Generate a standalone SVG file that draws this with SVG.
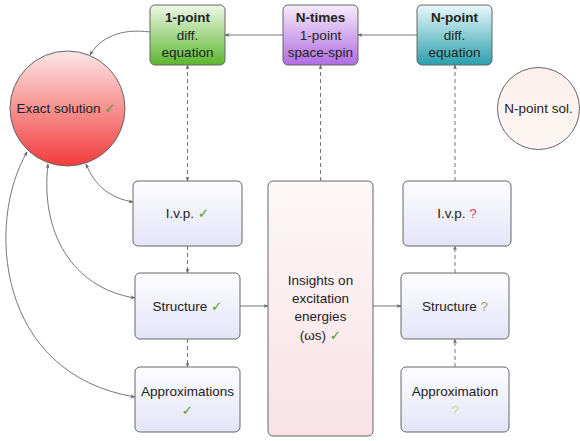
<svg xmlns="http://www.w3.org/2000/svg" width="580" height="441" viewBox="0 0 580 441">
<defs>
<linearGradient id="gGreen" x1="0" y1="0" x2="0" y2="1"><stop offset="0" stop-color="#eef8e6"/><stop offset="1" stop-color="#5cb62e"/></linearGradient>
<linearGradient id="gPurple" x1="0" y1="0" x2="0" y2="1"><stop offset="0" stop-color="#f6ecfc"/><stop offset="1" stop-color="#b06ce0"/></linearGradient>
<linearGradient id="gTeal" x1="0" y1="0" x2="0" y2="1"><stop offset="0" stop-color="#eaf8f9"/><stop offset="1" stop-color="#2a9fae"/></linearGradient>
<linearGradient id="gRed" x1="0" y1="0" x2="0" y2="1"><stop offset="0" stop-color="#fce6e6"/><stop offset="1" stop-color="#f23c3c"/></linearGradient>
<linearGradient id="gPeach" x1="0" y1="0" x2="0" y2="1"><stop offset="0" stop-color="#fdf0ec"/><stop offset="1" stop-color="#fdf6f4"/></linearGradient>
<linearGradient id="gLav" x1="0" y1="0" x2="0" y2="1"><stop offset="0" stop-color="#fdfdff"/><stop offset="1" stop-color="#e4e4f8"/></linearGradient>
<linearGradient id="gPink" x1="0" y1="0" x2="0" y2="1"><stop offset="0" stop-color="#fdf7f8"/><stop offset="1" stop-color="#f8e2e6"/></linearGradient>
<marker id="arr" viewBox="0 0 10 10" refX="9" refY="5" markerWidth="5" markerHeight="5" orient="auto-start-reverse" markerUnits="userSpaceOnUse">
<path d="M0,1 L10,5 L0,9 L3,5 Z" fill="#666"/>
</marker>
</defs>
<style>
.box{stroke:#666;stroke-width:1}
.t{font-family:"Liberation Sans","DejaVu Sans",sans-serif;font-size:13.5px;fill:#222;text-anchor:middle}
.b{font-weight:bold}
.ln{fill:none;stroke:#777;stroke-width:1}
.dash{stroke-dasharray:4,3}
.ok{fill:#5a9e3a}
.qr{fill:#e0405a}
.qg{fill:#a89e88}
.qy{fill:#cbd894}
</style>

<g id="connectors">
<path class="ln" d="M283,35 L225,35" marker-end="url(#arr)"/>
<path class="ln" d="M417,35 L358,35" marker-end="url(#arr)"/>
<path class="ln" d="M150,32 C120,28 100,38 90,55" marker-end="url(#arr)"/>
<path class="ln dash" d="M187.5,65 L187.5,181" marker-start="url(#arr)" marker-end="url(#arr)"/>
<path class="ln dash" d="M187.5,246 L187.5,273" marker-end="url(#arr)"/>
<path class="ln dash" d="M187.5,339 L187.5,367" marker-end="url(#arr)"/>
<path class="ln dash" d="M320.5,181 L320.5,65" marker-end="url(#arr)"/>
<path class="ln dash" d="M455,181 L455,65" marker-end="url(#arr)"/>
<path class="ln dash" d="M455,273 L455,246" marker-end="url(#arr)"/>
<path class="ln dash" d="M455,367 L455,339" marker-end="url(#arr)"/>
<path class="ln" d="M240,306 L268,306" marker-end="url(#arr)"/>
<path class="ln" d="M373,306 L401,306" marker-end="url(#arr)"/>
<path class="ln" d="M86,164 C95,186 110,198 133,202" marker-start="url(#arr)" marker-end="url(#arr)"/>
<path class="ln" d="M48,164 C40,232 72,288 135,298" marker-start="url(#arr)" marker-end="url(#arr)"/>
<path class="ln" d="M27,152 C-14,222 -4,374 135,397" marker-start="url(#arr)" marker-end="url(#arr)"/>
</g>

<g id="n-1point">
<rect class="box" x="150" y="5" width="75" height="60" rx="5" fill="url(#gGreen)"/>
<text class="t b" x="187.5" y="22">1-point</text>
<text class="t" x="187.5" y="40">diff.</text>
<text class="t" x="187.5" y="57">equation</text>
</g>

<g id="n-ntimes">
<rect class="box" x="283" y="5" width="75" height="60" rx="5" fill="url(#gPurple)"/>
<text class="t b" x="320.5" y="22">N-times</text>
<text class="t" x="320.5" y="40">1-point</text>
<text class="t" x="320.5" y="57">space-spin</text>
</g>

<g id="n-npoint">
<rect class="box" x="417" y="5" width="75" height="60" rx="5" fill="url(#gTeal)"/>
<text class="t b" x="454.5" y="22">N-point</text>
<text class="t" x="454.5" y="40">diff.</text>
<text class="t" x="454.5" y="57">equation</text>
</g>

<g id="n-exact">
<circle class="box" cx="67.5" cy="108.5" r="57.5" fill="url(#gRed)"/>
<text class="t" x="66" y="113">Exact solution <tspan class="ok">✓</tspan></text>
</g>

<g id="n-npointsol">
<circle class="box" cx="538.5" cy="108.5" r="41" fill="url(#gPeach)"/>
<text class="t" x="538.5" y="113">N-point sol.</text>
</g>

<g id="n-ivp-left">
<rect class="box" x="133" y="181" width="109" height="65" rx="5" fill="url(#gLav)"/>
<text class="t" x="187.5" y="218">I.v.p.  <tspan class="ok">✓</tspan></text>
</g>

<g id="n-structure-left">
<rect class="box" x="135" y="273" width="105" height="66" rx="5" fill="url(#gLav)"/>
<text class="t" x="187.5" y="311">Structure <tspan class="ok">✓</tspan></text>
</g>

<g id="n-approx-left">
<rect class="box" x="135" y="367" width="105" height="65" rx="5" fill="url(#gLav)"/>
<text class="t" x="187.5" y="396">Approximations</text>
<text class="t ok" x="187.5" y="415">✓</text>
</g>

<g id="n-insights">
<rect class="box" x="268" y="181" width="105" height="255" rx="5" fill="url(#gPink)"/>
<text class="t" x="320.5" y="285">Insights on</text>
<text class="t" x="320.5" y="303">excitation</text>
<text class="t" x="320.5" y="321">energies</text>
<text class="t" x="320.5" y="340">(ωs) <tspan class="ok">✓</tspan></text>
</g>

<g id="n-ivp-right">
<rect class="box" x="403" y="181" width="108" height="65" rx="5" fill="url(#gLav)"/>
<text class="t" x="457" y="218">I.v.p.  <tspan class="qr">?</tspan></text>
</g>

<g id="n-structure-right">
<rect class="box" x="401" y="273" width="108" height="66" rx="5" fill="url(#gLav)"/>
<text class="t" x="455" y="311">Structure <tspan class="qg">?</tspan></text>
</g>

<g id="n-approx-right">
<rect class="box" x="401" y="367" width="108" height="65" rx="5" fill="url(#gLav)"/>
<text class="t" x="455" y="396">Approximation</text>
<text class="t qy" x="455" y="415">?</text>
</g>
</svg>
